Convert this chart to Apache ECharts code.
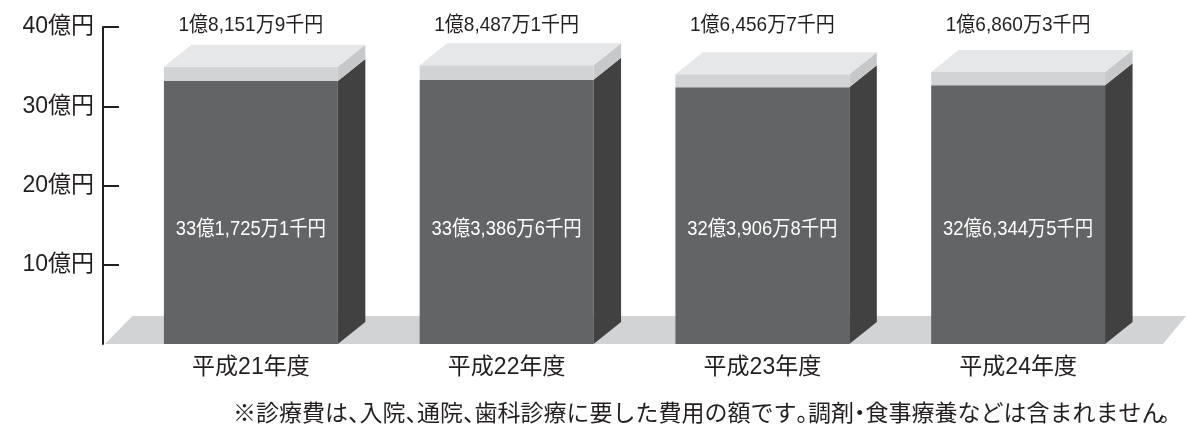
<!DOCTYPE html>
<html><head><meta charset="utf-8">
<style>html,body{margin:0;padding:0;background:#fff}#c{width:1186px;height:424px}</style>
<script src="https://cdn.jsdelivr.net/npm/echarts@6/dist/echarts.min.js"></script>
</head><body><div id="c"></div>
<script>
const categories = ['平成21年度','平成22年度','平成23年度','平成24年度'];
const medicalValues = [33.17251, 33.33866, 32.39068, 32.63445];
const otherValues = [1.81519, 1.84871, 1.64567, 1.68603];
const medicalLabels = ['33億1,725万1千円','33億3,386万6千円','32億3,906万8千円','32億6,344万5千円'];
const otherLabels = ['1億8,151万9千円','1億8,487万1千円','1億6,456万7千円','1億6,860万3千円'];
const tickValues = [10,20,30,40];
const note = '※診療費は、入院、通院、歯科診療に要した費用の額です。調剤・食事療養などは含まれません。';
const FONT = '"Liberation Sans","Noto Sans CJK JP",sans-serif';
const JP = '"Noto Sans CJK JP",sans-serif';
const INK = '#231f20';
const DX = 27.5, DY = 22;
const chart = echarts.init(document.getElementById('c'), null, {renderer:'canvas'});
function poly(points, fill){ return {type:'polygon', shape:{points}, style:{fill}, silent:true}; }
function renderBar(params, api){
  const i = api.value(0), med = api.value(1), oth = api.value(2);
  const cx = api.coord([i,0])[0], w = api.size([1,0])[0]*0.68;
  const l = cx-w/2, r = cx+w/2;
  const y0 = api.coord([i,0])[1], y1 = api.coord([i,med])[1], y2 = api.coord([i,med+oth])[1];
  const labelTop = api.coord([i,40])[1]-2, labelMid = api.coord([i,14.5])[1];
  const txt = (s,y,fill,sx)=>({type:'text', x:cx, y, scaleX:sx, style:{text:s, x:0, y:0, align:'center', verticalAlign:'middle', fill, font:'21px '+FONT}, silent:true});
  return {type:'group', children:[
    poly([[l,y0],[r,y0],[r,y1],[l,y1]],'#636466'),
    poly([[r,y0],[r+DX,y0-DY],[r+DX,y1-DY],[r,y1]],'#414142'),
    poly([[l,y1],[r,y1],[r,y2],[l,y2]],'#d1d3d4'),
    poly([[r,y1],[r+DX,y1-DY],[r+DX,y2-DY],[r,y2]],'#c7c8ca'),
    poly([[l,y2],[r,y2],[r+DX,y2-DY],[l+DX,y2-DY]],'#e6e7e8'),
    txt(otherLabels[i], labelTop, INK, 0.905),
    txt(medicalLabels[i], labelMid, '#ffffff', 0.875)
  ]};
}
function renderFloor(params, api){
  const c = params.coordSys, b = c.y+c.height;
  return poly([[105,b],[105+DX,b-28],[1186,b-28],[1163,b]],'#d1d3d4');
}
const noteRich = note.replace(/[、。]/g, m=>'{p|'+m+'}').replace(/・/g, m=>'{d|'+m+'}');
chart.setOption({
  animation:false,
  backgroundColor:'#ffffff',
  grid:{left:123, top:27, width:1023, height:317, containLabel:false},
  xAxis:{type:'category', data:categories, axisLine:{show:false}, axisTick:{show:false},
    axisLabel:{color:INK, fontFamily:FONT, fontSize:23, margin:12}},
  yAxis:{type:'value', min:0, max:40, interval:10, offset:20, splitLine:{show:false},
    axisLine:{show:true, lineStyle:{color:INK, width:2}},
    axisTick:{show:true, inside:true, length:16, customValues:tickValues, lineStyle:{color:INK, width:2}},
    axisLabel:{color:INK, fontFamily:FONT, fontSize:23, margin:9, customValues:tickValues, formatter:v=>v+'億円'}},
  series:[
    {type:'custom', coordinateSystem:'cartesian2d', z:1, silent:true, renderItem:renderFloor, data:[[0]], encode:{x:0}, clip:false},
    {type:'custom', coordinateSystem:'cartesian2d', z:2, silent:true, renderItem:renderBar, clip:false,
      data:categories.map((c,i)=>[i,medicalValues[i],otherValues[i]]), encode:{x:0,y:1}}
  ],
  graphic:[{type:'text', x:233, y:412, silent:true, style:{text:noteRich, font:'23px '+JP, fill:INK, textAlign:'left', textVerticalAlign:'middle',
    rich:{p:{font:'23px '+JP, fill:INK, width:11.5, align:'left'}, d:{font:'23px '+JP, fill:INK, width:11.5, align:'center'}}}}]
});
</script></body></html>
